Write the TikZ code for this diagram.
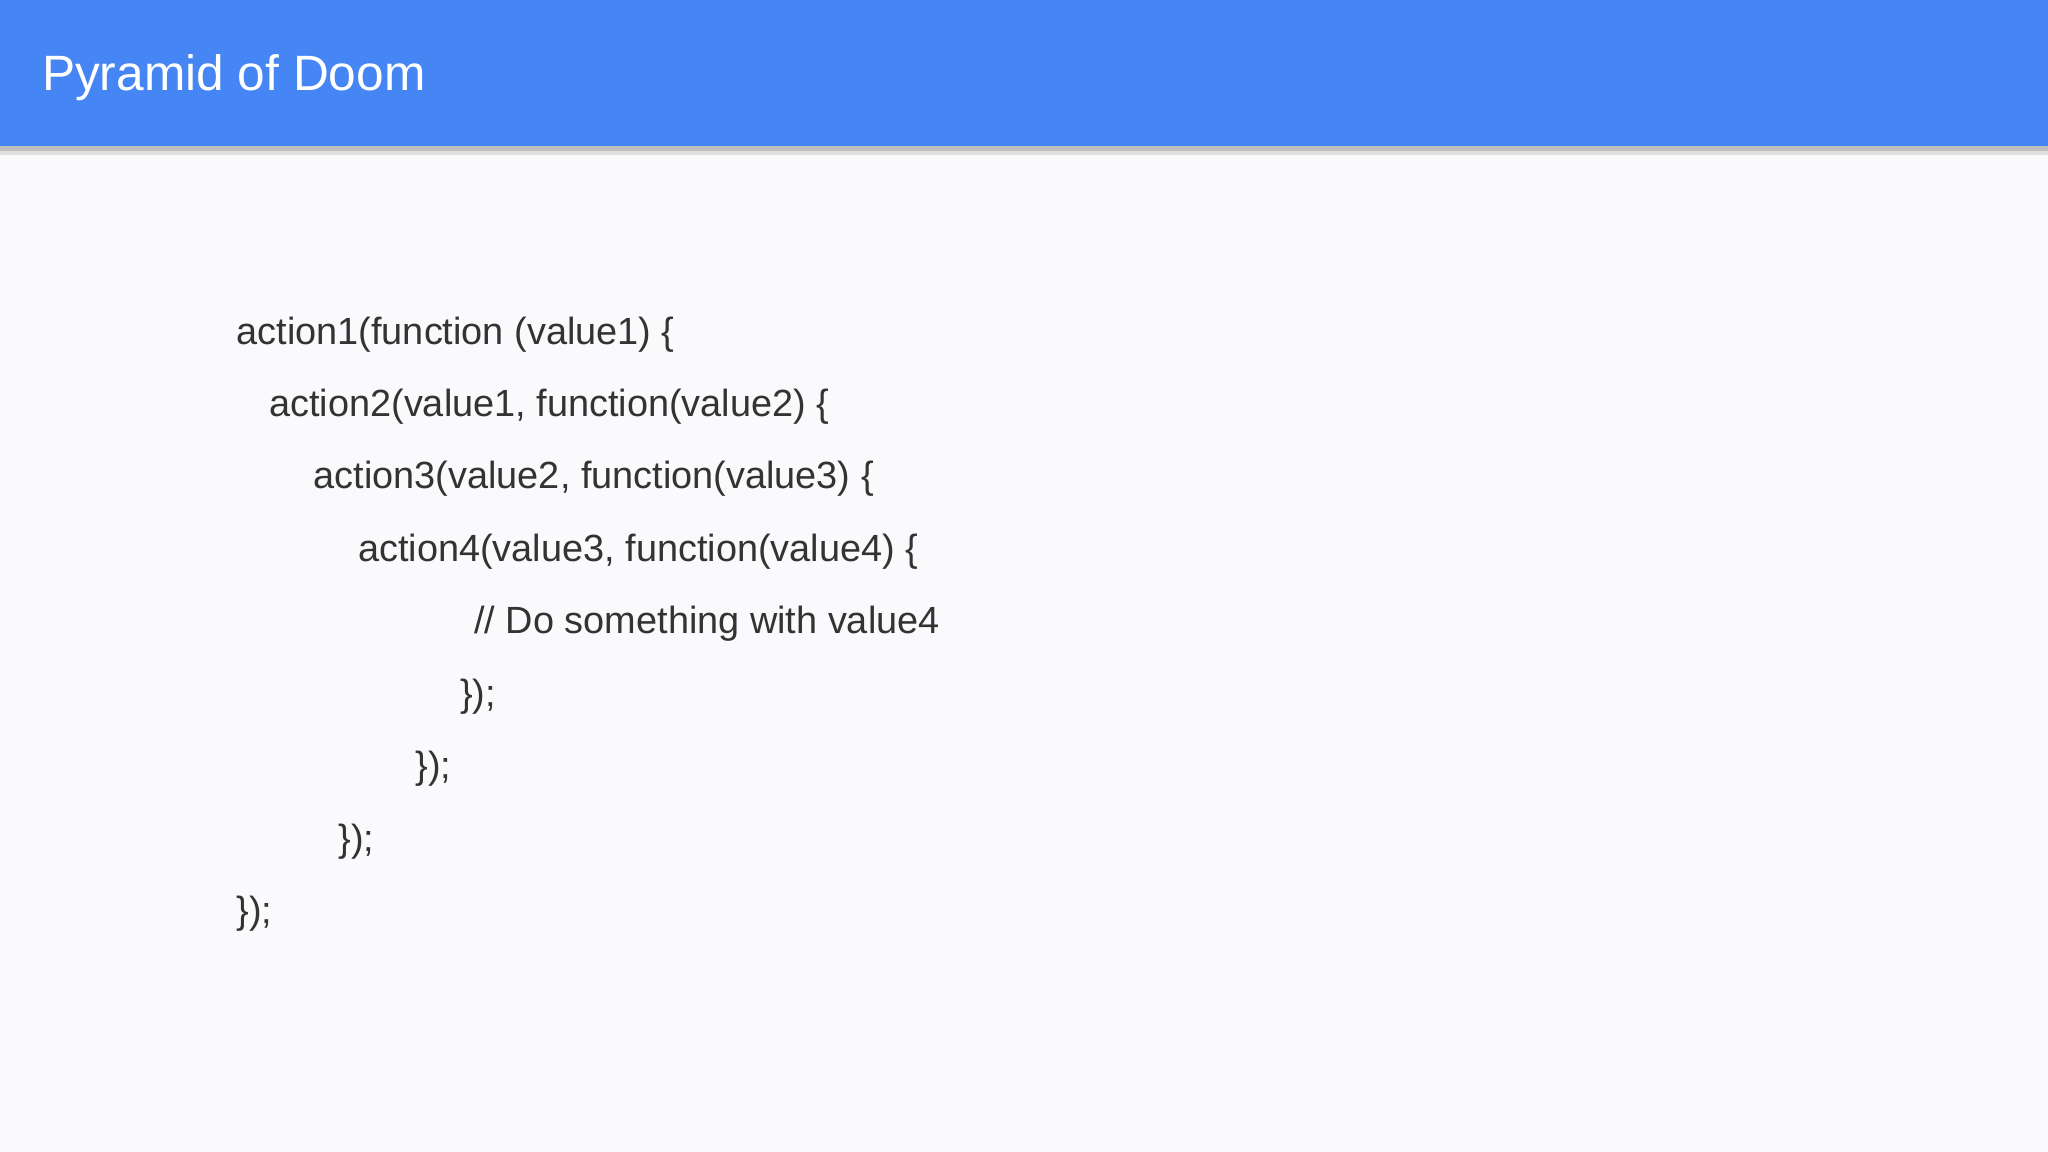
\documentclass[tikz,border=0pt]{standalone}
\usepackage{fontspec}
\setmainfont{Liberation Sans}
\definecolor{bg}{HTML}{FAF9FC}
\definecolor{hdr}{HTML}{4586F4}
\definecolor{txt}{HTML}{333333}
\begin{document}
\begin{tikzpicture}[x=1pt,y=1pt,
  code/.style={anchor=base west,inner sep=0,text=txt,font=\fontsize{29}{34}\selectfont}]
\useasboundingbox (0,0) rectangle (1568,882);
\fill[bg] (0,0) rectangle (1568,882);
\fill[black!25] (0,766) rectangle (1568,770);
\fill[black!12] (0,763) rectangle (1568,766);
\fill[hdr] (0,770) rectangle (1568,882);
\node[anchor=base west,inner sep=0,text=white,font=\fontsize{38}{44}\selectfont] (title) at (32,813) {Pyramid of Doom};
\node[code] (l1) at (181,618) {action1(function (value1) \{};
\node[code] (l2) at (206,563) {action2(value1, function(value2) \{};
\node[code] (l3) at (240,508) {action3(value2, function(value3) \{};
\node[code] (l4) at (274,452) {action4(value3, function(value4) \{};
\node[code] (l5) at (363,397) {// Do something with value4};
\node[code] (l6) at (352,341) {\});};
\node[code] (l7) at (318,286) {\});};
\node[code] (l8) at (259,230) {\});};
\node[code] (l9) at (181,175) {\});};
\end{tikzpicture}
\end{document}
